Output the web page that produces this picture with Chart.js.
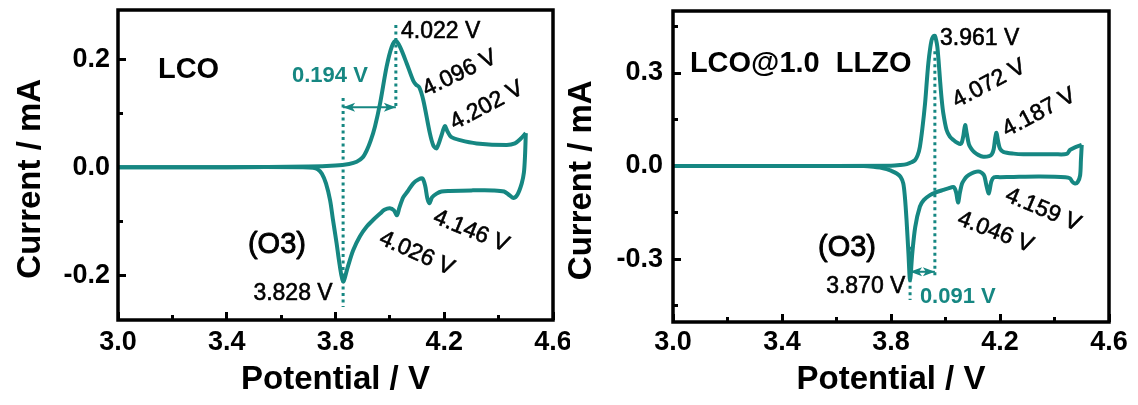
<!DOCTYPE html>
<html>
<head>
<meta charset="utf-8">
<title>CV curves</title>
<script src="https://cdn.jsdelivr.net/npm/chart.js@4.4.0/dist/chart.umd.min.js"></script>
<style>
  body { margin: 0; background: #fff; }
  #wrap { position: relative; width: 1138px; height: 405px; overflow: hidden; }
  canvas { position: absolute; top: 0; }
  #cv-lco { left: 0; }
  #cv-llzo { left: 555px; }
</style>
</head>
<body>
<div id="wrap">
  <canvas id="cv-lco" width="570" height="405"></canvas>
  <canvas id="cv-llzo" width="583" height="405"></canvas>
</div>
<script>
// ---- data: potential (V) and current (mA) ----
// bare LCO, anodic sweep 3.0 -> 4.5 V
const lcoAnodicV = [3.00, 3.40, 3.70, 3.80, 3.85, 3.878, 3.90, 3.915, 3.93, 3.945, 3.964, 3.988, 4.007, 4.022, 4.037, 4.062, 4.086, 4.096, 4.108, 4.123, 4.147, 4.16, 4.172, 4.19, 4.202, 4.212, 4.225, 4.258, 4.319, 4.43, 4.46, 4.48, 4.50];
const lcoAnodicI = [0, 0, 0.001, 0.003, 0.006, 0.010, 0.018, 0.031, 0.050, 0.075, 0.118, 0.186, 0.223, 0.234, 0.223, 0.192, 0.160, 0.153, 0.148, 0.124, 0.063, 0.040, 0.035, 0.059, 0.076, 0.066, 0.056, 0.050, 0.044, 0.041, 0.044, 0.052, 0.063];
// bare LCO, cathodic sweep 4.5 -> 3.0 V
const lcoCathodicV = [4.50, 4.497, 4.493, 4.485, 4.47, 4.455, 4.44, 4.42, 4.38, 4.30, 4.22, 4.19, 4.172, 4.155, 4.146, 4.138, 4.13, 4.12, 4.105, 4.086, 4.065, 4.049, 4.035, 4.026, 4.015, 4.0, 3.98, 3.964, 3.94, 3.915, 3.89, 3.865, 3.845, 3.828, 3.815, 3.804, 3.79, 3.78, 3.765, 3.75, 3.735, 3.718, 3.68, 3.40, 3.00];
const lcoCathodicI = [0.063, 0.020, -0.010, -0.030, -0.050, -0.057, -0.052, -0.045, -0.043, -0.043, -0.044, -0.045, -0.049, -0.056, -0.067, -0.058, -0.035, -0.021, -0.023, -0.030, -0.045, -0.056, -0.075, -0.089, -0.080, -0.076, -0.079, -0.086, -0.097, -0.110, -0.128, -0.154, -0.185, -0.212, -0.180, -0.141, -0.095, -0.061, -0.030, -0.012, -0.004, -0.001, 0, 0, 0];

// LCO@1.0 LLZO, anodic sweep
const llzoAnodicV = [3.00, 3.40, 3.80, 3.833, 3.858, 3.875, 3.888, 3.898, 3.906, 3.915, 3.925, 3.932, 3.937, 3.943, 3.949, 3.955, 3.961, 3.966, 3.970, 3.975, 3.980, 3.986, 3.992, 4.004, 4.016, 4.029, 4.045, 4.055, 4.060, 4.066, 4.072, 4.078, 4.086, 4.095, 4.105, 4.12, 4.139, 4.16, 4.170, 4.177, 4.182, 4.187, 4.193, 4.200, 4.212, 4.25, 4.286, 4.40, 4.445, 4.457, 4.475, 4.50];
const llzoAnodicI = [0, 0, 0.001, 0.003, 0.006, 0.012, 0.019, 0.035, 0.062, 0.120, 0.202, 0.280, 0.331, 0.375, 0.406, 0.418, 0.420, 0.405, 0.385, 0.335, 0.277, 0.215, 0.170, 0.116, 0.095, 0.084, 0.074, 0.071, 0.076, 0.100, 0.132, 0.105, 0.070, 0.055, 0.045, 0.036, 0.030, 0.032, 0.038, 0.055, 0.088, 0.107, 0.080, 0.056, 0.046, 0.040, 0.038, 0.038, 0.039, 0.052, 0.060, 0.068];
// LCO@1.0 LLZO, cathodic sweep
const llzoCathodicV = [4.50, 4.497, 4.494, 4.485, 4.475, 4.465, 4.457, 4.44, 4.347, 4.25, 4.2, 4.178, 4.168, 4.159, 4.150, 4.143, 4.136, 4.125, 4.114, 4.095, 4.078, 4.068, 4.060, 4.053, 4.046, 4.039, 4.030, 4.01, 3.992, 3.965, 3.943, 3.92, 3.906, 3.889, 3.878, 3.870, 3.864, 3.857, 3.851, 3.845, 3.835, 3.821, 3.80, 3.784, 3.76, 3.735, 3.70, 3.40, 3.00];
const llzoCathodicI = [0.068, 0.020, -0.030, -0.052, -0.056, -0.050, -0.040, -0.036, -0.034, -0.035, -0.036, -0.036, -0.050, -0.088, -0.062, -0.033, -0.024, -0.018, -0.018, -0.024, -0.034, -0.045, -0.058, -0.085, -0.118, -0.085, -0.068, -0.072, -0.077, -0.085, -0.094, -0.110, -0.131, -0.196, -0.282, -0.368, -0.282, -0.174, -0.100, -0.056, -0.035, -0.024, -0.015, -0.010, -0.005, -0.002, 0, 0, 0];

// tick values
const potentialTicks = [3.0, 3.4, 3.8, 4.2, 4.6];
const potentialMinor = [3.2, 3.6, 4.0, 4.4];
const lcoTicks = [-0.2, 0.0, 0.2];
const lcoMinor = [-0.1, 0.1];
const llzoTicks = [-0.3, 0.0, 0.3];
const llzoMinor = [-0.45, -0.15, 0.15, 0.45];

const TEAL = '#168782';
const FONT = '"Liberation Sans", Arial, Helvetica, sans-serif';
Chart.defaults.font.family = FONT;
Chart.defaults.color = '#000';

const pts = (xs, ys) => xs.map((x, i) => ({ x: x, y: ys[i] }));

function curve(xs, ys) {
  return { data: pts(xs, ys), showLine: true, borderColor: TEAL, borderWidth: 4,
    pointRadius: 0, tension: 0.3, fill: false };
}
function dotted(v, i1, i2) {
  return { data: [{ x: v, y: i1 }, { x: v, y: i2 }], showLine: true, borderColor: TEAL,
    borderWidth: 3, borderDash: [3, 3.5], pointRadius: 0 };
}

function zeroPad(s) { s.paddingLeft = s.paddingRight = s.paddingTop = s.paddingBottom = 0; }

function buildScales(o) {
  const tickFont = { size: 27, weight: 'bold' };
  const titleFont = { size: 33, weight: 'bold' };
  const setTicks = arr => s => { s.ticks = arr.map(v => ({ value: v })); };
  const gridMajor = { drawOnChartArea: false, tickLength: -8, tickWidth: 3, tickColor: '#000' };
  const gridMinor = { drawOnChartArea: false, tickLength: -5, tickWidth: 3, tickColor: '#000' };
  return {
    x: {
      type: 'linear', position: 'bottom', weight: 1, min: 3.0, max: 4.6, bounds: 'data',
      afterBuildTicks: setTicks(potentialTicks),
      afterFit: s => { s.height = o.xHeight; zeroPad(s); },
      border: { display: false }, grid: gridMajor,
      ticks: { font: tickFont, color: '#000', padding: o.xPad, maxRotation: 0, autoSkip: false,
        callback: v => v.toFixed(1) },
      title: { display: true, text: 'Potential / V', font: titleFont, color: '#000',
        padding: { top: 0, bottom: 5 } }
    },
    xm: {
      type: 'linear', position: 'bottom', weight: 0, min: 3.0, max: 4.6, bounds: 'data',
      afterBuildTicks: setTicks(potentialMinor),
      afterFit: s => { s.height = 0; zeroPad(s); },
      border: { display: false }, grid: gridMinor, ticks: { display: false }
    },
    y: {
      type: 'linear', position: 'left', weight: 1, min: o.yMin, max: o.yMax, bounds: 'data',
      afterBuildTicks: setTicks(o.yTicks),
      afterFit: s => { s.width = o.yWidth; zeroPad(s); },
      border: { display: false }, grid: gridMajor,
      ticks: { font: tickFont, color: '#000', padding: o.yPad, autoSkip: false,
        callback: v => v.toFixed(1) },
      title: { display: true, text: 'Current / mA   ', font: titleFont, color: '#000',
        padding: { top: o.titlePad, bottom: 0 } }
    },
    ym: {
      type: 'linear', position: 'left', weight: 0, min: o.yMin, max: o.yMax, bounds: 'data',
      afterBuildTicks: setTicks(o.yMinor),
      afterFit: s => { s.width = 0; zeroPad(s); },
      border: { display: false }, grid: gridMinor, ticks: { display: false }
    }
  };
}

// black box round the plot area
const framePlugin = {
  id: 'frame',
  afterDraw(chart) {
    const { ctx, chartArea: a } = chart;
    ctx.save();
    ctx.lineWidth = 3.5;
    ctx.strokeStyle = '#000';
    ctx.strokeRect(a.left, a.top, a.right - a.left, a.bottom - a.top);
    ctx.restore();
  }
};

// peak labels and the double arrow, placed in data coordinates
function notesPlugin(notes, arrow) {
  return {
    id: 'notes',
    afterDatasetsDraw(chart) {
      const { ctx } = chart;
      const xs = chart.scales.x, ys = chart.scales.y;
      ctx.save();
      notes.forEach(n => {
        ctx.save();
        ctx.translate(xs.getPixelForValue(n.v), ys.getPixelForValue(n.i));
        ctx.rotate((n.angle || 0) * Math.PI / 180);
        ctx.font = n.font || '23px ' + FONT;
        ctx.fillStyle = ctx.strokeStyle = n.color || '#000';
        ctx.textAlign = 'left';
        ctx.textBaseline = 'alphabetic';
        ctx.fillText(n.text, 0, 0);
        // regular-weight labels are printed a little heavier
        const heavy = n.heavy === undefined ? 0.6 : n.heavy;
        if (heavy > 0) {
          ctx.lineWidth = heavy;
          ctx.lineJoin = 'round';
          ctx.strokeText(n.text, 0, 0);
        }
        ctx.restore();
      });
      const x1 = xs.getPixelForValue(arrow.from), x2 = xs.getPixelForValue(arrow.to);
      const y = ys.getPixelForValue(arrow.at);
      ctx.strokeStyle = TEAL;
      ctx.fillStyle = TEAL;
      ctx.lineWidth = 2;
      ctx.beginPath(); ctx.moveTo(x1, y); ctx.lineTo(x2, y); ctx.stroke();
      const head = (x, dir) => {
        ctx.beginPath();
        ctx.moveTo(x, y);
        ctx.lineTo(x + dir * 12, y - 4.5);
        ctx.lineTo(x + dir * 9, y);
        ctx.lineTo(x + dir * 12, y + 4.5);
        ctx.closePath();
        ctx.fill();
      };
      head(x1, 1);
      head(x2, -1);
      ctx.restore();
    }
  };
}

const big = 'bold 29px ' + FONT;
const mid = '29px ' + FONT;
const shift = 'bold 22px ' + FONT;

new Chart(document.getElementById('cv-lco'), {
  type: 'scatter',
  data: {
    datasets: [
      curve(lcoAnodicV, lcoAnodicI),
      curve(lcoCathodicV, lcoCathodicI),
      dotted(4.022, 0.263, 0.111),
      dotted(3.828, 0.128, -0.259)
    ]
  },
  options: {
    responsive: false, animation: false, devicePixelRatio: 1,
    layout: { padding: { left: 0, top: 10, right: 17, bottom: 0 } },
    plugins: { legend: { display: false }, tooltip: { enabled: false } },
    scales: buildScales({ yMin: -0.283, yMax: 0.291, yTicks: lcoTicks, yMinor: lcoMinor,
      yWidth: 118, xHeight: 85, yPad: 16, xPad: 14, titlePad: 11 })
  },
  plugins: [framePlugin, notesPlugin([
    { text: 'LCO', v: 3.147, i: 0.165, font: big, heavy: 0 },
    { text: '(O3)', v: 3.478, i: -0.159, font: mid, heavy: 0.9 },
    { text: '3.828 V', v: 3.498, i: -0.246 },
    { text: '4.022 V', v: 4.041, i: 0.239 },
    { text: '4.096 V', v: 4.136, i: 0.131, angle: -26 },
    { text: '4.202 V', v: 4.239, i: 0.069, angle: -28 },
    { text: '4.146 V', v: 4.155, i: -0.102, angle: 22 },
    { text: '4.026 V', v: 3.956, i: -0.141, angle: 24 },
    { text: '0.194 V', v: 3.640, i: 0.157, font: shift, color: TEAL, heavy: 0 }
  ], { from: 3.828, to: 4.022, at: 0.111 })]
});

new Chart(document.getElementById('cv-llzo'), {
  type: 'scatter',
  data: {
    datasets: [
      curve(llzoAnodicV, llzoAnodicI),
      curve(llzoCathodicV, llzoCathodicI),
      dotted(3.961, 0.37, -0.357),
      dotted(3.870, -0.26, -0.432)
    ]
  },
  options: {
    responsive: false, animation: false, devicePixelRatio: 1,
    layout: { padding: { left: 0, top: 11, right: 29, bottom: 0 } },
    plugins: { legend: { display: false }, tooltip: { enabled: false } },
    scales: buildScales({ yMin: -0.503, yMax: 0.5, yTicks: llzoTicks, yMinor: llzoMinor,
      yWidth: 118, xHeight: 83, yPad: 18, xPad: 12, titlePad: 7 })
  },
  plugins: [framePlugin, notesPlugin([
    { text: 'LCO@1.0  LLZO', v: 3.062, i: 0.303, font: big, heavy: 0 },
    { text: '(O3)', v: 3.532, i: -0.290, font: mid, heavy: 0.9 },
    { text: '3.870 V', v: 3.562, i: -0.410 },
    { text: '3.961 V', v: 3.980, i: 0.390 },
    { text: '4.072 V', v: 4.042, i: 0.187, angle: -28 },
    { text: '4.187 V', v: 4.226, i: 0.094, angle: -28 },
    { text: '4.159 V', v: 4.215, i: -0.110, angle: 23 },
    { text: '4.046 V', v: 4.039, i: -0.187, angle: 21 },
    { text: '0.091 V', v: 3.906, i: -0.442, font: shift, color: TEAL, heavy: 0 }
  ], { from: 3.870, to: 3.961, at: -0.341 })]
});
</script>
</body>
</html>
